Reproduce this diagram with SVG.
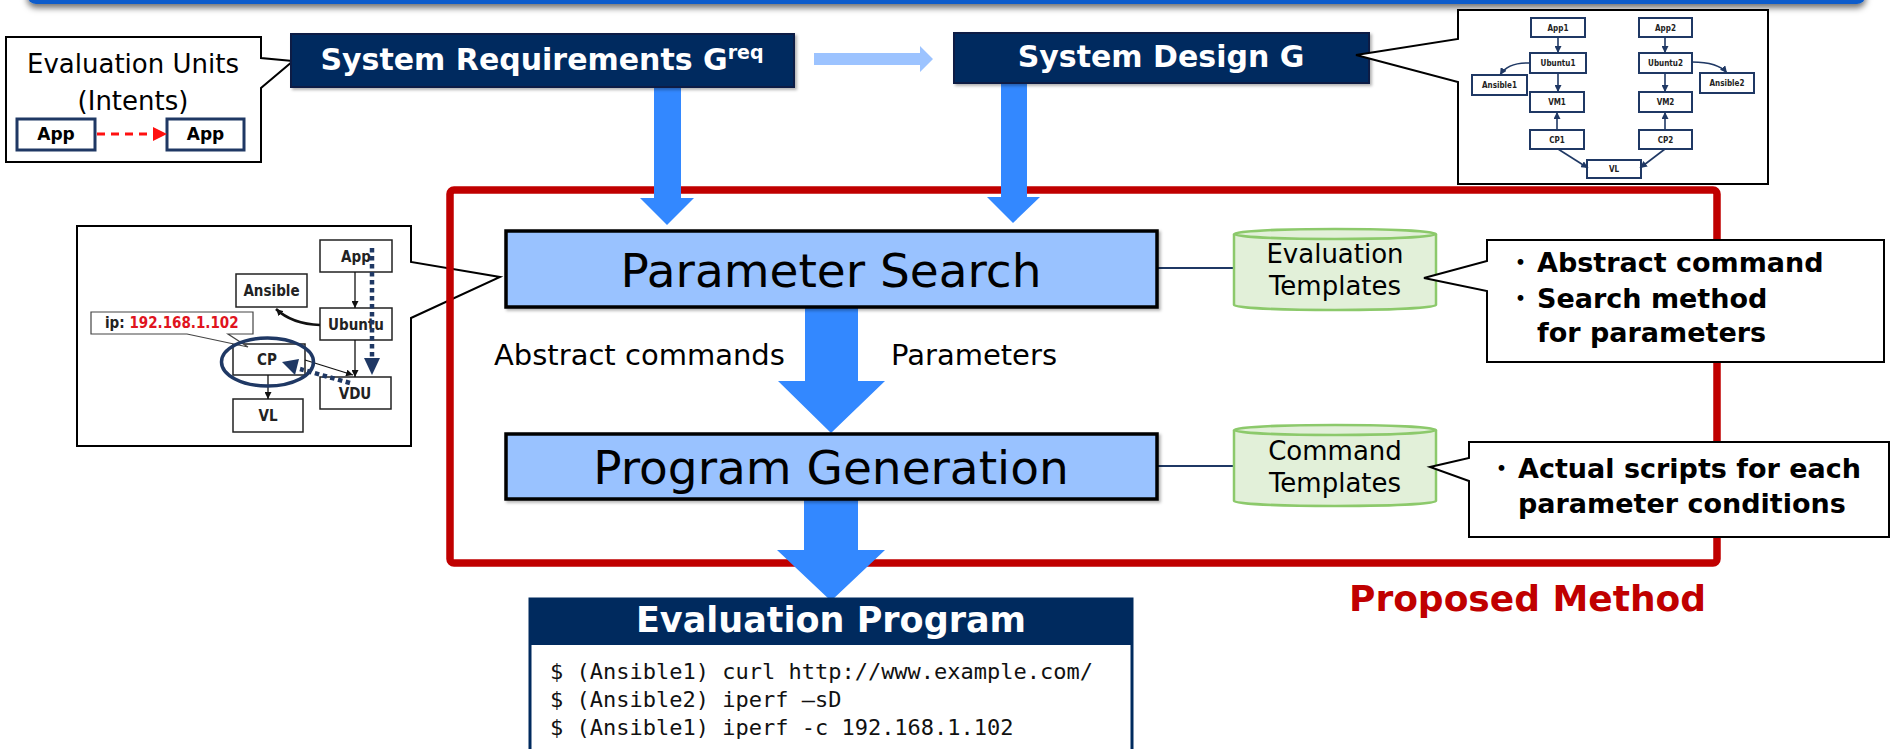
<svg xmlns="http://www.w3.org/2000/svg" width="1891" height="749" viewBox="0 0 1891 749">
<defs>
<style>
.navybox{fill:#002A5E;stroke:#0B1F44;stroke-width:2}
.wt{fill:#ffffff;font-family:'DejaVu Sans',Verdana,sans-serif;font-weight:bold}
.lbl{font-family:'DejaVu Sans',Verdana,sans-serif;fill:#000}
.bold{font-family:'DejaVu Sans',Verdana,sans-serif;font-weight:bold;fill:#000}
.cond{font-family:'DejaVu Sans Condensed','DejaVu Sans',sans-serif;font-weight:bold;fill:#111}
.lightbox{fill:#99C2FF;stroke:#000;stroke-width:3.5}
.cyl{fill:#E2F0D9;stroke:#8CC96B;stroke-width:2.5}
.call{fill:#fff;stroke:#000;stroke-width:2}
.bigarrow{fill:#3388FF}
.rnode{fill:#fff;stroke:#1F3864;stroke-width:2}
.rtxt{font-family:'DejaVu Sans Condensed','DejaVu Sans',sans-serif;font-weight:bold;font-size:8px;fill:#222;text-anchor:middle}
.rline{stroke:#1F3864;stroke-width:1.6;fill:none;marker-end:url(#navyhead)}
.lnode{fill:#fff;stroke:#222;stroke-width:1.5}
.ltxt{font-family:'DejaVu Sans Condensed','DejaVu Sans',sans-serif;font-weight:bold;font-size:15px;fill:#222;text-anchor:middle}
.lline{stroke:#111;stroke-width:1.3;fill:none;marker-end:url(#blackhead)}
.mono{font-family:'DejaVu Sans Mono','Liberation Mono',monospace;font-size:22px;fill:#111}
</style>
<marker id="navyhead" viewBox="0 0 10 10" refX="10" refY="5" markerWidth="7" markerHeight="7" markerUnits="userSpaceOnUse" orient="auto">
<path d="M0,0 L10,5 L0,10 Z" fill="#1F3864"/>
</marker>
<marker id="blackhead" viewBox="0 0 10 10" refX="10" refY="5" markerWidth="7" markerHeight="7" markerUnits="userSpaceOnUse" orient="auto">
<path d="M0,0 L10,5 L0,10 Z" fill="#111"/>
</marker>
<filter id="barsh" x="-5%" y="-100%" width="110%" height="400%">
<feDropShadow dx="0" dy="4" stdDeviation="3" flood-color="#000" flood-opacity="0.55"/>
</filter>
<filter id="sh" x="-5%" y="-10%" width="110%" height="130%">
<feDropShadow dx="2" dy="2" stdDeviation="1.5" flood-color="#000" flood-opacity="0.3"/>
</filter>
</defs>

<rect width="1891" height="749" fill="#ffffff"/>

<!-- top banner -->
<rect id="banner" x="27" y="-24" width="1839" height="28" rx="9" fill="#0B5CCB" filter="url(#barsh)"/>

<!-- left inset example (callout) -->
<g id="inset-left">
<path class="call" d="M77,226 H411 V262 L500,277 L411,318 V446 H77 Z"/>
<rect class="lnode" x="320" y="240" width="72" height="32"/>
<text class="ltxt" x="356" y="262">App</text>
<rect class="lnode" x="236" y="274" width="71" height="33"/>
<text class="ltxt" x="271.5" y="296">Ansible</text>
<rect class="lnode" x="320" y="308" width="72" height="32"/>
<text class="ltxt" x="356" y="330">Ubuntu</text>
<rect class="lnode" x="233" y="344" width="72" height="31"/>
<text class="ltxt" x="267" y="365">CP</text>
<rect class="lnode" x="233" y="399" width="70" height="33"/>
<text class="ltxt" x="268" y="421">VL</text>
<rect class="lnode" x="320" y="377" width="71" height="32"/>
<text class="ltxt" x="355" y="399">VDU</text>
<path d="M91,312 H253 V334 H228 L248,347 L187,334 H91 Z" fill="#fff" stroke="#444" stroke-width="1.2"/>
<text class="cond" x="105" y="328" font-size="15"><tspan fill="#222">ip: </tspan><tspan fill="#E0141E">192.168.1.102</tspan></text>
<line class="lline" x1="355" y1="272" x2="355" y2="308"/>
<line class="lline" x1="355" y1="340" x2="355" y2="377"/>
<line class="lline" x1="268" y1="375" x2="268" y2="399"/>
<line class="lline" x1="305" y1="360" x2="353" y2="375"/>
<path d="M320,325 Q292,324 276,309" stroke="#111" stroke-width="2.6" fill="none" marker-end="url(#blackhead)"/>
<ellipse cx="267.5" cy="362" rx="46" ry="24" fill="none" stroke="#1F3864" stroke-width="3.5"/>
<line x1="372" y1="248" x2="372" y2="358" stroke="#1F3864" stroke-width="4.5" stroke-dasharray="4.5,3.5"/>
<path d="M364,358 L380,358 L372,375 Z" fill="#1F3864"/>
<line x1="350" y1="383" x2="300" y2="369" stroke="#1F3864" stroke-width="4.5" stroke-dasharray="4.5,3.5"/>
<path d="M282,362 L299,359 L295,375 Z" fill="#1F3864"/>
</g>

<!-- proposed method frame -->
<g id="proposed-method">
<rect x="450" y="190" width="1267" height="373" rx="4" fill="none" stroke="#C00000" stroke-width="7.5"/>
<text x="1349" y="611" font-family="'DejaVu Sans',Verdana,sans-serif" font-weight="bold" font-size="36" fill="#C00000">Proposed Method</text>
</g>

<!-- evaluation units callout -->
<g id="eval-units">
<path class="call" d="M6,37 H261 V58 L293,61 L261,88 V162 H6 Z"/>
<text class="lbl" x="133" y="73" font-size="26" text-anchor="middle">Evaluation Units</text>
<text class="lbl" x="133" y="110" font-size="26" text-anchor="middle">(Intents)</text>
<rect x="17" y="119" width="78" height="31" fill="#fff" stroke="#1F3864" stroke-width="3"/>
<text class="bold" x="56" y="140" font-size="17" text-anchor="middle">App</text>
<rect x="167" y="119" width="77" height="31" fill="#fff" stroke="#1F3864" stroke-width="3"/>
<text class="bold" x="205.5" y="140" font-size="17" text-anchor="middle">App</text>
</g>

<!-- connectors -->
<g id="connectors">
<path class="bigarrow" d="M654,87 H681 V198 H694 L667,225 L640,198 H654 Z"/>
<path class="bigarrow" d="M1001,82 H1027 V197 H1040 L1013,223 L987,197 H1001 Z"/>
<path class="bigarrow" d="M805,307 H858 V381 H885 L831,433 L778,381 H805 Z"/>
<path class="bigarrow" d="M804,499 H858 V550 H885 L831,601 L777,550 H804 Z"/>
<path d="M814,53 H920 V46 L933,59 L920,72 V65 H814 Z" fill="#9CC3FF"/>
<line x1="1157" y1="268" x2="1234" y2="268" stroke="#1F3864" stroke-width="2"/>
<line x1="1157" y1="466" x2="1234" y2="466" stroke="#1F3864" stroke-width="2"/>
<path d="M97,134 H154" stroke="#FF1010" stroke-width="3" stroke-dasharray="8,6" fill="none"/>
<path d="M153,127 L167,134 L153,141 Z" fill="#FF1010"/>
</g>

<!-- system requirements -->
<g id="sys-req">
<rect class="navybox" x="291" y="34" width="503" height="53" filter="url(#sh)"/>
<text class="wt" x="542" y="70" font-size="30" text-anchor="middle">System Requirements G<tspan font-size="19" dy="-11">req</tspan></text>
</g>

<!-- system design -->
<g id="sys-design">
<rect class="navybox" x="954" y="33" width="415" height="50" filter="url(#sh)"/>
<text class="wt" x="1161" y="67" font-size="30" text-anchor="middle">System Design G</text>
</g>

<!-- right inset graph -->
<g id="inset-right">
<path class="call" d="M1458,10 H1768 V184 H1458 V82 L1356,55 L1458,39 Z"/>
<rect class="rnode" x="1531" y="18" width="54" height="19"/><text class="rtxt" x="1558" y="30.5">App1</text>
<rect class="rnode" x="1639" y="18" width="53" height="19"/><text class="rtxt" x="1665.5" y="30.5">App2</text>
<rect class="rnode" x="1530" y="53" width="56" height="20"/><text class="rtxt" x="1558" y="66">Ubuntu1</text>
<rect class="rnode" x="1639" y="53" width="53" height="20"/><text class="rtxt" x="1665.5" y="66">Ubuntu2</text>
<rect class="rnode" x="1472" y="75" width="55" height="20"/><text class="rtxt" x="1499.5" y="88">Ansible1</text>
<rect class="rnode" x="1700" y="73" width="54" height="20"/><text class="rtxt" x="1727" y="86">Ansible2</text>
<rect class="rnode" x="1530" y="92" width="54" height="20"/><text class="rtxt" x="1557" y="105">VM1</text>
<rect class="rnode" x="1639" y="92" width="53" height="20"/><text class="rtxt" x="1665.5" y="105">VM2</text>
<rect class="rnode" x="1530" y="130" width="54" height="19"/><text class="rtxt" x="1557" y="142.5">CP1</text>
<rect class="rnode" x="1639" y="130" width="53" height="19"/><text class="rtxt" x="1665.5" y="142.5">CP2</text>
<rect class="rnode" x="1587" y="160" width="54" height="18"/><text class="rtxt" x="1614" y="172">VL</text>
<line class="rline" x1="1558" y1="37" x2="1558" y2="53"/>
<line class="rline" x1="1665" y1="37" x2="1665" y2="53"/>
<line class="rline" x1="1558" y1="73" x2="1558" y2="92"/>
<line class="rline" x1="1665" y1="73" x2="1665" y2="92"/>
<line class="rline" x1="1557" y1="130" x2="1557" y2="112"/>
<line class="rline" x1="1665" y1="130" x2="1665" y2="112"/>
<line class="rline" x1="1558" y1="149" x2="1588" y2="168"/>
<line class="rline" x1="1665" y1="149" x2="1640" y2="168"/>
<path class="rline" d="M1530,63 Q1508,62 1500,75"/>
<path class="rline" d="M1692,62 Q1718,62 1727,73"/>
</g>

<!-- parameter search -->
<g id="param-search">
<rect class="lightbox" x="506" y="231" width="651" height="76" filter="url(#sh)"/>
<text class="lbl" x="831" y="287" font-size="47" text-anchor="middle">Parameter Search</text>
</g>

<g id="flow-labels">
<text class="lbl" x="494" y="365" font-size="29">Abstract commands</text>
<text class="lbl" x="891" y="365" font-size="29">Parameters</text>
</g>

<!-- program generation -->
<g id="program-generation">
<rect class="lightbox" x="506" y="434" width="651" height="65" filter="url(#sh)"/>
<text class="lbl" x="831" y="484" font-size="47" text-anchor="middle">Program Generation</text>
</g>

<!-- evaluation templates -->
<g id="eval-templates">
<path class="cyl" d="M1234,234 A101,5 0 0 1 1436,234 V305 A101,5 0 0 1 1234,305 Z"/>
<path d="M1234,234 A101,5 0 0 0 1436,234" fill="none" stroke="#8CC96B" stroke-width="2.5"/>
<text class="lbl" x="1335" y="263" font-size="26" text-anchor="middle">Evaluation</text>
<text class="lbl" x="1335" y="295" font-size="26" text-anchor="middle">Templates</text>
</g>

<!-- command templates -->
<g id="command-templates">
<path class="cyl" d="M1234,430 A101,5 0 0 1 1436,430 V501 A101,5 0 0 1 1234,501 Z"/>
<path d="M1234,430 A101,5 0 0 0 1436,430" fill="none" stroke="#8CC96B" stroke-width="2.5"/>
<text class="lbl" x="1335" y="460" font-size="26" text-anchor="middle">Command</text>
<text class="lbl" x="1335" y="492" font-size="26" text-anchor="middle">Templates</text>
</g>

<!-- callout 1 -->
<g id="callout-eval">
<path class="call" d="M1487,240 H1884 V362 H1487 V291 L1424,278 L1487,261 Z"/>
<text class="bold" font-size="27"><tspan x="1507" y="272" font-family="'Noto Sans CJK JP',sans-serif" font-weight="normal">・</tspan><tspan x="1537" y="272">Abstract command</tspan></text>
<text class="bold" font-size="27"><tspan x="1507" y="308" font-family="'Noto Sans CJK JP',sans-serif" font-weight="normal">・</tspan><tspan x="1537" y="308">Search method</tspan></text>
<text class="bold" font-size="27" x="1537" y="342">for parameters</text>
</g>

<!-- callout 2 -->
<g id="callout-cmd">
<path class="call" d="M1469,442 H1889 V537 H1469 V481 L1430,467 L1469,458 Z"/>
<text class="bold" font-size="27"><tspan x="1488" y="478" font-family="'Noto Sans CJK JP',sans-serif" font-weight="normal">・</tspan><tspan x="1518" y="478">Actual scripts for each</tspan></text>
<text class="bold" font-size="27" x="1518" y="513">parameter conditions</text>
</g>

<!-- evaluation program -->
<g id="eval-program">
<rect x="530" y="599" width="602" height="180" fill="#fff" stroke="#002A5E" stroke-width="3"/>
<rect x="530" y="599" width="602" height="46" fill="#002A5E"/>
<text class="wt" x="831" y="632" font-size="35" text-anchor="middle">Evaluation Program</text>
<text class="mono" x="550" y="679">$ (Ansible1) curl http://www.example.com/</text>
<text class="mono" x="550" y="707">$ (Ansible2) iperf –sD</text>
<text class="mono" x="550" y="735">$ (Ansible1) iperf -c 192.168.1.102</text>
</g>
</svg>
